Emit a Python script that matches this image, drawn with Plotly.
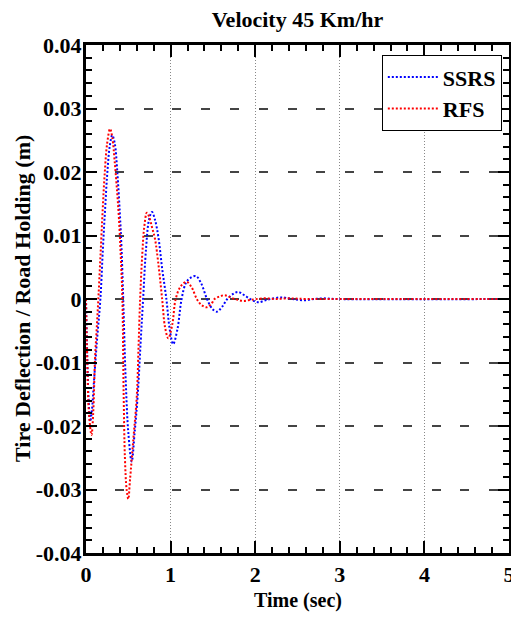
import plotly.graph_objects as go

# ---- data ----
ssrs_t = [0.0, 0.015, 0.03, 0.05, 0.07, 0.095, 0.13, 0.17, 0.20, 0.225, 0.25, 0.28, 0.31, 0.34, 0.37,
          0.40, 0.42, 0.44, 0.47, 0.50, 0.54, 0.575, 0.61, 0.645, 0.675, 0.71, 0.745, 0.78, 0.815, 0.855,
          0.90, 0.95, 0.99, 1.03, 1.08, 1.13, 1.18, 1.23, 1.30, 1.36, 1.43, 1.49, 1.545, 1.61, 1.67,
          1.74, 1.80, 1.87, 1.94, 2.0, 2.05, 2.12, 2.18, 2.31, 2.44, 2.57, 2.7, 2.8, 2.95, 5.0]
ssrs_y = [0.0, -0.009, -0.0155, -0.0193, -0.0175, -0.0128, -0.0065, 0.0, 0.008, 0.014, 0.0195, 0.024,
          0.0258, 0.0245, 0.020, 0.0135, 0.008, 0.0, -0.013, -0.021, -0.0256, -0.021, -0.0154, -0.007,
          0.0, 0.008, 0.0125, 0.0137, 0.0125, 0.0098, 0.0048, 0.0, -0.0048, -0.0071, -0.0048, 0.0,
          0.0025, 0.0033, 0.0036, 0.0025, 0.0, -0.0015, -0.002, -0.0012, 0.0, 0.0008, 0.0011, 0.0006,
          0.0, -0.0004, -0.0005, -0.0002, 0.0, 0.00025, 0.0, -0.0002, 0.0, 0.0001, 0.0, 0.0]

rfs_t = [0.0, 0.015, 0.035, 0.065, 0.085, 0.106, 0.125, 0.146, 0.17, 0.197, 0.22, 0.25, 0.284, 0.31,
         0.34, 0.37, 0.39, 0.41, 0.43, 0.445, 0.46, 0.48, 0.50, 0.52, 0.56, 0.60, 0.62, 0.64, 0.665,
         0.69, 0.72, 0.75, 0.78, 0.815, 0.86, 0.90, 0.935, 0.973, 1.02, 1.06, 1.12, 1.19, 1.25, 1.31,
         1.37, 1.43, 1.48, 1.52, 1.58, 1.64, 1.70, 1.76, 1.86, 1.96, 2.1, 2.25, 2.4, 2.6, 3.0, 5.0]
rfs_y = [0.0, -0.01, -0.018, -0.0214, -0.018, -0.0096, -0.005, 0.0, 0.0065, 0.014, 0.0195, 0.0245,
         0.0268, 0.0255, 0.0215, 0.0165, 0.0125, 0.007, 0.0, -0.015, -0.025, -0.030, -0.0315, -0.0285,
         -0.022, -0.0154, -0.008, 0.0, 0.007, 0.0115, 0.0136, 0.0128, 0.0113, 0.0095, 0.005, 0.0,
         -0.0045, -0.0062, -0.004, 0.0, 0.002, 0.0027, 0.0018, 0.0, -0.001, -0.0013, -0.0008, 0.0,
         0.0004, 0.0006, 0.0003, 0.0, -0.0003, -0.0001, 0.0001, 0.0, 0.0001, 0.0, 0.0, 0.0]

x_ticks = [0, 1, 2, 3, 4, 5]
y_ticks = [-0.04, -0.03, -0.02, -0.01, 0, 0.01, 0.02, 0.03, 0.04]
y_tick_text = ["-0.04", "-0.03", "-0.02", "-0.01", "0", "0.01", "0.02", "0.03", "0.04"]

FONT = "Liberation Serif"
W, H = 511, 611          # page body adds an 8px margin
L, R, T, B = 78, 10, 37, 66
PW, PH = W - L - R, H - T - B

fig = go.Figure()
fig.add_trace(go.Scatter(x=ssrs_t, y=ssrs_y, name="<b>SSRS</b>", mode="lines",
                         line=dict(color="#0000FF", width=2, dash="2px,2px", shape="spline", smoothing=1)))
fig.add_trace(go.Scatter(x=rfs_t, y=rfs_y, name="<b>RFS</b>", mode="lines",
                         line=dict(color="#FF0000", width=2, dash="2px,2px", shape="spline", smoothing=1)))

fig.update_layout(
    width=W, height=H,
    margin=dict(l=L, r=R, t=T, b=B, autoexpand=False),
    paper_bgcolor="white", plot_bgcolor="white",
    font=dict(family=FONT, color="black"),
    title=dict(text="<b>Velocity 45 Km/hr</b>", x=0.5, xref="paper", y=1, yref="container",
               xanchor="center", yanchor="top", pad=dict(t=4, b=0, l=0, r=0),
               font=dict(family=FONT, size=22, color="black")),
    legend=dict(x=0.983, y=0.98, xanchor="right", yanchor="top", bgcolor="white",
                bordercolor="black", borderwidth=1, font=dict(family=FONT, size=22, color="black"),
                itemwidth=50),
    showlegend=True,
    annotations=[
        dict(text="<b>Time (sec)</b>", xref="paper", yref="paper", x=0.5, y=-47 / PH,
             xanchor="center", yanchor="middle", showarrow=False,
             font=dict(family=FONT, size=20, color="black")),
        dict(text="<b>Tire Deflection / Road Holding (m)</b>", xref="paper", yref="paper",
             x=(14 - L) / PW, y=0.5, xanchor="center", yanchor="middle", textangle=-90,
             showarrow=False, font=dict(family=FONT, size=22, color="black")),
    ],
)

fig.update_xaxes(
    range=[0, 5], tickvals=x_ticks, ticktext=["<b>%d</b>" % v for v in x_ticks],
    tickfont=dict(family=FONT, size=22, color="black"),
    ticks="inside", ticklen=12, tickwidth=2, tickcolor="black",
    minor=dict(dtick=0.2, ticks="inside", ticklen=6, tickwidth=2, tickcolor="black", showgrid=False),
    showline=True, linewidth=3, linecolor="black", mirror="allticks",
    showgrid=True, gridcolor="#888888", gridwidth=1, griddash="1px,2px",
    zeroline=False, automargin=False,
)
fig.update_yaxes(
    range=[-0.04, 0.04], tickvals=y_ticks, ticktext=["<b>%s</b>" % s for s in y_tick_text],
    tickfont=dict(family=FONT, size=22, color="black"), ticklabelstandoff=-3,
    ticks="inside", ticklen=11, tickwidth=2, tickcolor="black",
    minor=dict(dtick=0.002, tick0=0, ticks="inside", ticklen=6, tickwidth=2, tickcolor="black", showgrid=False),
    showline=True, linewidth=3, linecolor="black", mirror="allticks",
    showgrid=True, gridcolor="#444444", gridwidth=2, griddash="9px,19.8px",
    zeroline=False, automargin=False,
)

fig.write_html("out.html")
